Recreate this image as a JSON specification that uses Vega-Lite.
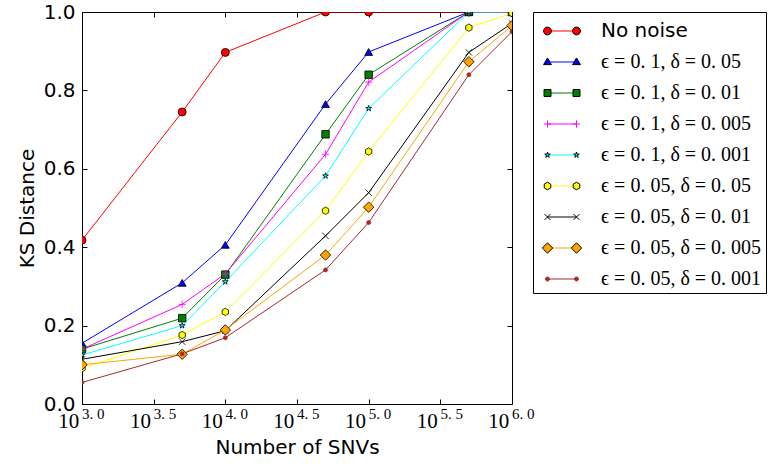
{
  "$schema": "https://vega.github.io/schema/vega-lite/v6.json",
  "width": 430,
  "height": 392,
  "autosize": {"type": "none"},
  "padding": {"left": 82, "top": 12, "right": 262, "bottom": 63},
  "background": "white",
  "config": {
    "view": {"stroke": "black", "strokeWidth": 1},
    "axis": {"domain": false, "grid": false, "tickColor": "black", "tickWidth": 1, "tickSize": -5, "labelColor": "black", "titleColor": "black", "titleFontWeight": "normal", "labelOverlap": false, "labelFlush": false},
    "legend": {"title": null, "orient": "none", "legendX": 451, "legendY": 0, "padding": 4, "symbolOffset": 10, "symbolSize": 841, "symbolStrokeWidth": 1, "symbolOpacity": 1,
      "labelOffset": 24, "labelFontSize": 20, "labelColor": "black", "labelLimit": 400, "rowPadding": 6,
      "labelFont": {"expr": "datum.value === 'No noise' ? 'DejaVu Sans' : 'Liberation Serif'"}}
  },
  "data": {"values": [
    {"series": "No noise", "snvs": 1000, "ks": 0.418},
    {"series": "No noise", "snvs": 5000, "ks": 0.745},
    {"series": "No noise", "snvs": 10000, "ks": 0.897},
    {"series": "No noise", "snvs": 50000, "ks": 1.0},
    {"series": "No noise", "snvs": 100000, "ks": 1.0},
    {"series": "No noise", "snvs": 500000, "ks": 1.0},
    {"series": "No noise", "snvs": 1000000, "ks": 1.0},
    {"series": "ϵ = 0. 1, δ = 0. 05", "snvs": 1000, "ks": 0.155},
    {"series": "ϵ = 0. 1, δ = 0. 05", "snvs": 5000, "ks": 0.309},
    {"series": "ϵ = 0. 1, δ = 0. 05", "snvs": 10000, "ks": 0.406},
    {"series": "ϵ = 0. 1, δ = 0. 05", "snvs": 50000, "ks": 0.765},
    {"series": "ϵ = 0. 1, δ = 0. 05", "snvs": 100000, "ks": 0.898},
    {"series": "ϵ = 0. 1, δ = 0. 05", "snvs": 500000, "ks": 1.0},
    {"series": "ϵ = 0. 1, δ = 0. 05", "snvs": 1000000, "ks": 1.0},
    {"series": "ϵ = 0. 1, δ = 0. 01", "snvs": 1000, "ks": 0.140},
    {"series": "ϵ = 0. 1, δ = 0. 01", "snvs": 5000, "ks": 0.219},
    {"series": "ϵ = 0. 1, δ = 0. 01", "snvs": 10000, "ks": 0.330},
    {"series": "ϵ = 0. 1, δ = 0. 01", "snvs": 50000, "ks": 0.688},
    {"series": "ϵ = 0. 1, δ = 0. 01", "snvs": 100000, "ks": 0.840},
    {"series": "ϵ = 0. 1, δ = 0. 01", "snvs": 500000, "ks": 1.0},
    {"series": "ϵ = 0. 1, δ = 0. 01", "snvs": 1000000, "ks": 1.0},
    {"series": "ϵ = 0. 1, δ = 0. 005", "snvs": 1000, "ks": 0.140},
    {"series": "ϵ = 0. 1, δ = 0. 005", "snvs": 5000, "ks": 0.254},
    {"series": "ϵ = 0. 1, δ = 0. 005", "snvs": 10000, "ks": 0.332},
    {"series": "ϵ = 0. 1, δ = 0. 005", "snvs": 50000, "ks": 0.637},
    {"series": "ϵ = 0. 1, δ = 0. 005", "snvs": 100000, "ks": 0.821},
    {"series": "ϵ = 0. 1, δ = 0. 005", "snvs": 500000, "ks": 1.0},
    {"series": "ϵ = 0. 1, δ = 0. 005", "snvs": 1000000, "ks": 1.0},
    {"series": "ϵ = 0. 1, δ = 0. 001", "snvs": 1000, "ks": 0.125},
    {"series": "ϵ = 0. 1, δ = 0. 001", "snvs": 5000, "ks": 0.200},
    {"series": "ϵ = 0. 1, δ = 0. 001", "snvs": 10000, "ks": 0.312},
    {"series": "ϵ = 0. 1, δ = 0. 001", "snvs": 50000, "ks": 0.582},
    {"series": "ϵ = 0. 1, δ = 0. 001", "snvs": 100000, "ks": 0.754},
    {"series": "ϵ = 0. 1, δ = 0. 001", "snvs": 500000, "ks": 1.0},
    {"series": "ϵ = 0. 1, δ = 0. 001", "snvs": 1000000, "ks": 1.0},
    {"series": "ϵ = 0. 05, δ = 0. 05", "snvs": 1000, "ks": 0.091},
    {"series": "ϵ = 0. 05, δ = 0. 05", "snvs": 5000, "ks": 0.176},
    {"series": "ϵ = 0. 05, δ = 0. 05", "snvs": 10000, "ks": 0.235},
    {"series": "ϵ = 0. 05, δ = 0. 05", "snvs": 50000, "ks": 0.493},
    {"series": "ϵ = 0. 05, δ = 0. 05", "snvs": 100000, "ks": 0.644},
    {"series": "ϵ = 0. 05, δ = 0. 05", "snvs": 500000, "ks": 0.960},
    {"series": "ϵ = 0. 05, δ = 0. 05", "snvs": 1000000, "ks": 0.997},
    {"series": "ϵ = 0. 05, δ = 0. 01", "snvs": 1000, "ks": 0.114},
    {"series": "ϵ = 0. 05, δ = 0. 01", "snvs": 5000, "ks": 0.159},
    {"series": "ϵ = 0. 05, δ = 0. 01", "snvs": 10000, "ks": 0.187},
    {"series": "ϵ = 0. 05, δ = 0. 01", "snvs": 50000, "ks": 0.429},
    {"series": "ϵ = 0. 05, δ = 0. 01", "snvs": 100000, "ks": 0.539},
    {"series": "ϵ = 0. 05, δ = 0. 01", "snvs": 500000, "ks": 0.897},
    {"series": "ϵ = 0. 05, δ = 0. 01", "snvs": 1000000, "ks": 0.971},
    {"series": "ϵ = 0. 05, δ = 0. 005", "snvs": 1000, "ks": 0.100},
    {"series": "ϵ = 0. 05, δ = 0. 005", "snvs": 5000, "ks": 0.127},
    {"series": "ϵ = 0. 05, δ = 0. 005", "snvs": 10000, "ks": 0.189},
    {"series": "ϵ = 0. 05, δ = 0. 005", "snvs": 50000, "ks": 0.380},
    {"series": "ϵ = 0. 05, δ = 0. 005", "snvs": 100000, "ks": 0.502},
    {"series": "ϵ = 0. 05, δ = 0. 005", "snvs": 500000, "ks": 0.873},
    {"series": "ϵ = 0. 05, δ = 0. 005", "snvs": 1000000, "ks": 0.965},
    {"series": "ϵ = 0. 05, δ = 0. 001", "snvs": 1000, "ks": 0.055},
    {"series": "ϵ = 0. 05, δ = 0. 001", "snvs": 5000, "ks": 0.128},
    {"series": "ϵ = 0. 05, δ = 0. 001", "snvs": 10000, "ks": 0.169},
    {"series": "ϵ = 0. 05, δ = 0. 001", "snvs": 50000, "ks": 0.342},
    {"series": "ϵ = 0. 05, δ = 0. 001", "snvs": 100000, "ks": 0.463},
    {"series": "ϵ = 0. 05, δ = 0. 001", "snvs": 500000, "ks": 0.840},
    {"series": "ϵ = 0. 05, δ = 0. 001", "snvs": 1000000, "ks": 0.950}
  ]},
  "layer": [
    {
      "mark": {"type": "line", "strokeWidth": 1, "clip": true},
      "encoding": {
        "x": {"field": "snvs", "type": "quantitative",
          "scale": {"type": "log", "domain": [1000, 1000000], "nice": false},
          "axis": {"orient": "bottom", "values": [1000, 3162.2776601683795, 10000, 31622.776601683792, 100000, 316227.7660168379, 1000000],
            "labelExpr": "'10'", "labelOffset": -13.7,
            "labelFont": "Liberation Serif", "labelFontSize": 21, "labelPadding": 11,
            "title": "Number of SNVs", "titleFont": "DejaVu Sans", "titleFontSize": 20, "titlePadding": 6}},
        "y": {"field": "ks", "type": "quantitative",
          "scale": {"domain": [0, 1], "nice": false},
          "axis": {"orient": "left", "values": [0, 0.2, 0.4, 0.6, 0.8, 1.0], "format": ".1f",
            "labelFont": "DejaVu Sans", "labelFontSize": 20, "labelPadding": 12,
            "title": "KS Distance", "titleFont": "DejaVu Sans", "titleFontSize": 20, "titlePadding": 6}},
        "color": {"field": "series", "type": "nominal",
          "scale": {"domain": ["No noise", "ϵ = 0. 1, δ = 0. 05", "ϵ = 0. 1, δ = 0. 01", "ϵ = 0. 1, δ = 0. 005", "ϵ = 0. 1, δ = 0. 001", "ϵ = 0. 05, δ = 0. 05", "ϵ = 0. 05, δ = 0. 01", "ϵ = 0. 05, δ = 0. 005", "ϵ = 0. 05, δ = 0. 001"],
            "range": ["#ff0000", "#0000ff", "#008000", "#ff00ff", "#00ffff", "#ffff00", "#000000", "#ffa500", "#a52a2a"]},
          "legend": null}
      }
    },
    {
      "mark": {"type": "point", "filled": true, "opacity": 1, "strokeWidth": 0.8, "clip": true},
      "encoding": {
        "x": {"field": "snvs", "type": "quantitative",
          "axis": {"orient": "top", "values": [1000, 3162.2776601683795, 10000, 31622.776601683792, 100000, 316227.7660168379, 1000000], "labels": false, "title": null}},
        "y": {"field": "ks", "type": "quantitative",
          "axis": {"orient": "right", "values": [0, 0.2, 0.4, 0.6, 0.8, 1.0], "labels": false, "title": null}},
        "color": {"field": "series", "type": "nominal",
          "scale": {"domain": ["No noise", "ϵ = 0. 1, δ = 0. 05", "ϵ = 0. 1, δ = 0. 01", "ϵ = 0. 1, δ = 0. 005", "ϵ = 0. 1, δ = 0. 001", "ϵ = 0. 05, δ = 0. 05", "ϵ = 0. 05, δ = 0. 01", "ϵ = 0. 05, δ = 0. 005", "ϵ = 0. 05, δ = 0. 001"],
            "range": ["#ff0000", "#0000ff", "#008000", "#ff00ff", "#00ffff", "#ffff00", "#000000", "#ffa500", "#a52a2a"]},
          "legend": null},
        "stroke": {"field": "series", "type": "nominal",
          "scale": {"domain": ["No noise", "ϵ = 0. 1, δ = 0. 05", "ϵ = 0. 1, δ = 0. 01", "ϵ = 0. 1, δ = 0. 005", "ϵ = 0. 1, δ = 0. 001", "ϵ = 0. 05, δ = 0. 05", "ϵ = 0. 05, δ = 0. 01", "ϵ = 0. 05, δ = 0. 005", "ϵ = 0. 05, δ = 0. 001"],
            "range": ["#000000", "#000000", "#000000", "#ff00ff", "#000000", "#000000", "#000000", "#000000", "#a52a2a"]},
          "legend": null},
        "shape": {"field": "series", "type": "nominal",
          "scale": {"domain": ["No noise", "ϵ = 0. 1, δ = 0. 05", "ϵ = 0. 1, δ = 0. 01", "ϵ = 0. 1, δ = 0. 005", "ϵ = 0. 1, δ = 0. 001", "ϵ = 0. 05, δ = 0. 05", "ϵ = 0. 05, δ = 0. 01", "ϵ = 0. 05, δ = 0. 005", "ϵ = 0. 05, δ = 0. 001"],
            "range": ["circle", "triangle-up", "square", "M-1,0L1,0M0,-1L0,1", "M0,-1L0.225,-0.309L0.951,-0.309L0.363,0.118L0.588,0.809L0,0.382L-0.588,0.809L-0.363,0.118L-0.951,-0.309L-0.225,-0.309Z", "M0,-1L0.866,-0.5L0.866,0.5L0,1L-0.866,0.5L-0.866,-0.5Z", "M-1,-1L1,1M-1,1L1,-1", "diamond", "circle"]},
          "legend": null},
        "size": {"field": "series", "type": "nominal",
          "scale": {"type": "ordinal", "domain": ["No noise", "ϵ = 0. 1, δ = 0. 05", "ϵ = 0. 1, δ = 0. 01", "ϵ = 0. 1, δ = 0. 005", "ϵ = 0. 1, δ = 0. 001", "ϵ = 0. 05, δ = 0. 05", "ϵ = 0. 05, δ = 0. 01", "ϵ = 0. 05, δ = 0. 005", "ϵ = 0. 05, δ = 0. 001"],
            "range": [64, 62, 56, 52, 38, 54, 42, 110, 16]},
          "legend": null}
      }
    },
    {
      "transform": [{"filter": "false"}],
      "mark": {"type": "point", "filled": false, "opacity": 1},
      "encoding": {
        "x": {"field": "snvs", "type": "quantitative",
          "axis": {"orient": "bottom", "values": [1000, 3162.2776601683795, 10000, 31622.776601683792, 100000, 316227.7660168379, 1000000],
            "labelExpr": "['3. 0','3. 5','4. 0','4. 5','5. 0','5. 5','6. 0'][round(log(datum.value)/LN10*2)-6]",
            "labelOffset": 10.8, "ticks": false, "tickSize": 0,
            "labelFont": "Liberation Serif", "labelFontSize": 15, "labelPadding": 2.5, "title": null}},
        "color": {"field": "series", "type": "nominal",
          "scale": {"domain": ["No noise", "ϵ = 0. 1, δ = 0. 05", "ϵ = 0. 1, δ = 0. 01", "ϵ = 0. 1, δ = 0. 005", "ϵ = 0. 1, δ = 0. 001", "ϵ = 0. 05, δ = 0. 05", "ϵ = 0. 05, δ = 0. 01", "ϵ = 0. 05, δ = 0. 005", "ϵ = 0. 05, δ = 0. 001"],
            "range": ["#ff0000", "#0000ff", "#008000", "#ff00ff", "#00ffff", "#ffff00", "#000000", "#ffa500", "#a52a2a"]},
          "legend": {"strokeColor": "black", "fillColor": "white"}},
        "shape": {"field": "series", "type": "nominal",
          "scale": {"domain": ["No noise", "ϵ = 0. 1, δ = 0. 05", "ϵ = 0. 1, δ = 0. 01", "ϵ = 0. 1, δ = 0. 005", "ϵ = 0. 1, δ = 0. 001", "ϵ = 0. 05, δ = 0. 05", "ϵ = 0. 05, δ = 0. 01", "ϵ = 0. 05, δ = 0. 005", "ϵ = 0. 05, δ = 0. 001"],
            "range": ["M-1,0L1,0", "M-1,0L1,0", "M-1,0L1,0", "M-1,0L1,0", "M-1,0L1,0", "M-1,0L1,0", "M-1,0L1,0", "M-1,0L1,0", "M-1,0L1,0"]},
          "legend": {"strokeColor": "black", "fillColor": "white"}}
      }
    },
    {
      "transform": [{"filter": "false"}],
      "mark": {"type": "point", "filled": true, "opacity": 1},
      "encoding": {
        "color": {"field": "series", "type": "nominal",
          "scale": {"domain": ["No noise", "ϵ = 0. 1, δ = 0. 05", "ϵ = 0. 1, δ = 0. 01", "ϵ = 0. 1, δ = 0. 005", "ϵ = 0. 1, δ = 0. 001", "ϵ = 0. 05, δ = 0. 05", "ϵ = 0. 05, δ = 0. 01", "ϵ = 0. 05, δ = 0. 005", "ϵ = 0. 05, δ = 0. 001"],
            "range": ["#ff0000", "#0000ff", "#008000", "#ff00ff", "#00ffff", "#ffff00", "#000000", "#ffa500", "#a52a2a"]},
          "legend": {"labelOpacity": 0}},
        "stroke": {"field": "series", "type": "nominal",
          "scale": {"domain": ["No noise", "ϵ = 0. 1, δ = 0. 05", "ϵ = 0. 1, δ = 0. 01", "ϵ = 0. 1, δ = 0. 005", "ϵ = 0. 1, δ = 0. 001", "ϵ = 0. 05, δ = 0. 05", "ϵ = 0. 05, δ = 0. 01", "ϵ = 0. 05, δ = 0. 005", "ϵ = 0. 05, δ = 0. 001"],
            "range": ["#000000", "#000000", "#000000", "#ff00ff", "#000000", "#000000", "#000000", "#000000", "#a52a2a"]},
          "legend": {"labelOpacity": 0}},
        "shape": {"field": "series", "type": "nominal",
          "scale": {"domain": ["No noise", "ϵ = 0. 1, δ = 0. 05", "ϵ = 0. 1, δ = 0. 01", "ϵ = 0. 1, δ = 0. 005", "ϵ = 0. 1, δ = 0. 001", "ϵ = 0. 05, δ = 0. 05", "ϵ = 0. 05, δ = 0. 01", "ϵ = 0. 05, δ = 0. 005", "ϵ = 0. 05, δ = 0. 001"],
            "range": [
              "M-0.73,0A0.27,0.27,0,1,1,-1.27,0A0.27,0.27,0,1,1,-0.73,0ZM1.27,0A0.27,0.27,0,1,1,0.73,0A0.27,0.27,0,1,1,1.27,0Z",
              "M-1,-0.28L-0.73,0.18L-1.27,0.18ZM1,-0.28L1.27,0.18L0.73,0.18Z",
              "M-1.24,-0.24L-0.76,-0.24L-0.76,0.24L-1.24,0.24ZM0.76,-0.24L1.24,-0.24L1.24,0.24L0.76,0.24Z",
              "M-1.25,0L-0.75,0M-1,-0.25L-1,0.25M0.75,0L1.25,0M1,-0.25L1,0.25",
              "M-1,-0.2L-0.955,-0.062L-0.81,-0.062L-0.927,0.024L-0.882,0.162L-1,0.076L-1.118,0.162L-1.073,0.024L-1.19,-0.062L-1.045,-0.062ZM1,-0.2L1.045,-0.062L1.19,-0.062L1.073,0.024L1.118,0.162L1,0.076L0.882,0.162L0.927,0.024L0.81,-0.062L0.955,-0.062Z",
              "M-1,-0.26L-0.775,-0.13L-0.775,0.13L-1,0.26L-1.225,0.13L-1.225,-0.13ZM1,-0.26L1.225,-0.13L1.225,0.13L1,0.26L0.775,0.13L0.775,-0.13Z",
              "M-1.2,-0.2L-0.8,0.2M-1.2,0.2L-0.8,-0.2M0.8,-0.2L1.2,0.2M0.8,0.2L1.2,-0.2",
              "M-1,-0.36L-0.64,0L-1,0.36L-1.36,0ZM1,-0.36L1.36,0L1,0.36L0.64,0Z",
              "M-0.86,0A0.14,0.14,0,1,1,-1.14,0A0.14,0.14,0,1,1,-0.86,0ZM1.14,0A0.14,0.14,0,1,1,0.86,0A0.14,0.14,0,1,1,1.14,0Z"
            ]},
          "legend": {"labelOpacity": 0}}
      }
    }
  ],
  "resolve": {"scale": {"shape": "independent", "color": "independent", "stroke": "independent"}, "axis": {"x": "independent", "y": "independent"}}
}
